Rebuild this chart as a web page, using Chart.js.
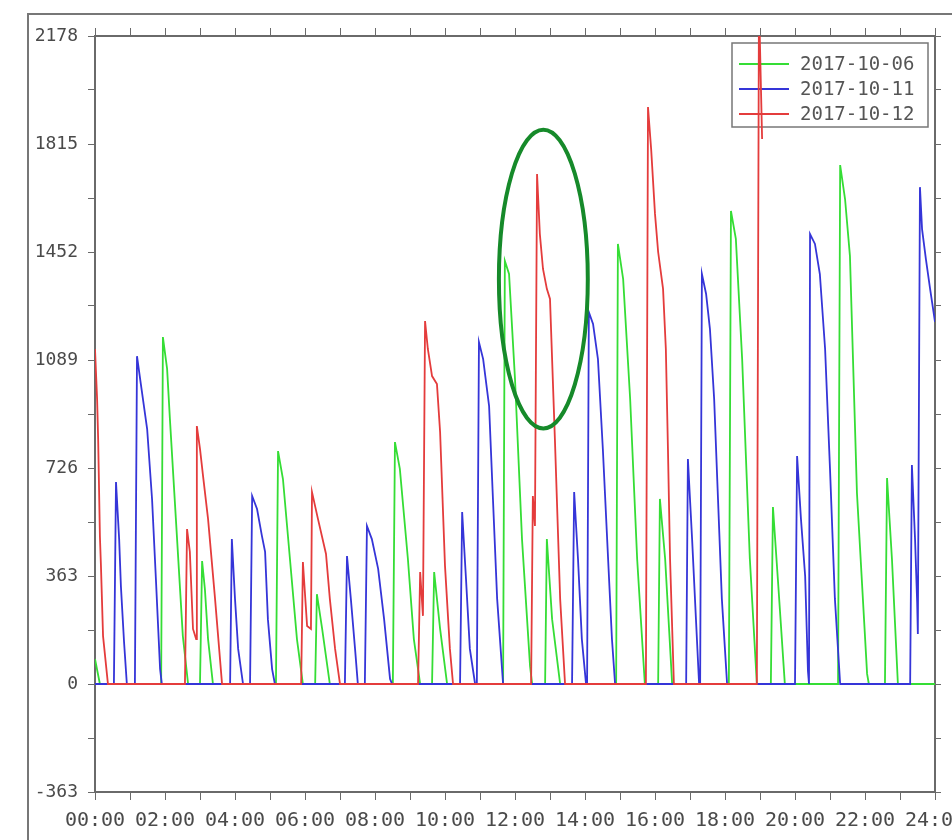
<!DOCTYPE html>
<html>
<head>
<meta charset="utf-8">
<script src="https://cdn.jsdelivr.net/npm/chart.js@4.4.1/dist/chart.umd.min.js"></script>
<style>
  html, body { margin: 0; padding: 0; background: #fff; overflow: hidden; }
  #wrap { width: 990px; height: 840px; }
</style>
</head>
<body>
<div id="wrap"><canvas id="chart" width="990" height="840"></canvas></div>
<script>
// --- Data (hours of day, value) ---
const seriesLabels = ['2017-10-06', '2017-10-11', '2017-10-12'];

const greenT = [0, 0.14, 1.89, 1.94, 2.06, 2.14, 2.34, 2.51, 2.66, 3.0, 3.06, 3.14, 3.23, 3.37,
  5.17, 5.23, 5.37, 5.57, 5.77, 5.94, 6.29, 6.34, 6.49, 6.71, 8.51, 8.57, 8.71, 8.94, 9.11, 9.29,
  9.63, 9.69, 9.86, 10.06, 11.66, 11.71, 11.83, 12.0, 12.2, 12.43, 12.49, 12.86, 12.91, 13.06, 13.29,
  14.89, 14.94, 15.09, 15.29, 15.49, 15.71, 16.09, 16.14, 16.29, 16.49, 18.11, 18.17, 18.31, 18.49,
  18.71, 18.91, 19.31, 19.37, 19.51, 19.71, 21.23, 21.29, 21.43, 21.57, 21.77, 22.06, 22.11,
  22.57, 22.63, 22.77, 22.94, 24];
const greenV = [84, 0, 0, 1166, 1059, 891, 497, 161, 0, 0, 413, 319, 151, 0,
  0, 783, 689, 420, 151, 0, 0, 302, 185, 0, 0, 813, 723, 420, 151, 0,
  0, 376, 185, 0, 0, 1422, 1378, 1025, 487, 60, 0, 0, 487, 218, 0,
  0, 1479, 1361, 958, 420, 0, 0, 622, 420, 0, 0, 1590, 1496, 1092,
  420, 0, 0, 595, 353, 0, 0, 1744, 1630, 1438, 642, 34, 0,
  0, 692, 420, 0, 0];

const blueT = [0, 0.54, 0.6, 0.69, 0.74, 0.83, 0.91, 1.14, 1.2, 1.31, 1.49, 1.63, 1.74, 1.86, 1.91,
  3.86, 3.91, 4.0, 4.09, 4.23, 4.43, 4.49, 4.63, 4.77, 4.86, 4.94, 5.06, 5.14,
  7.14, 7.2, 7.31, 7.43, 7.51, 7.71, 7.77, 7.91, 8.09, 8.26, 8.43, 8.49,
  10.43, 10.49, 10.6, 10.71, 10.86, 10.91, 10.97, 11.09, 11.26, 11.37, 11.49, 11.66,
  13.63, 13.69, 13.8, 13.91, 14.03, 14.06, 14.11, 14.23, 14.37, 14.51, 14.66, 14.77, 14.86,
  16.89, 16.94, 17.06, 17.17, 17.26, 17.29, 17.34, 17.46, 17.57, 17.69, 17.8, 17.91, 18.06,
  20.0, 20.06, 20.17, 20.29, 20.37, 20.4, 20.43, 20.57, 20.71, 20.86, 21.0, 21.14, 21.29,
  23.29, 23.34, 23.43, 23.49, 23.51, 23.57, 23.63, 23.74, 23.86, 24.0];
const blueV = [0, 0, 679, 487, 329, 141, 0, 0, 1102, 1008, 857, 622, 353, 50, 0,
  0, 487, 286, 118, 0, 0, 632, 588, 497, 444, 218, 50, 0,
  0, 430, 286, 118, 0, 0, 531, 487, 387, 218, 17, 0,
  0, 578, 353, 118, 0, 0, 1149, 1092, 934, 622, 286, 0,
  0, 645, 420, 151, 0, 0, 1250, 1210, 1092, 790, 420, 151, 0,
  0, 756, 487, 218, 0, 0, 1378, 1311, 1193, 958, 622, 286, 0,
  0, 766, 555, 363, 44, 0, 1512, 1479, 1378, 1126, 723, 286, 0,
  0, 736, 487, 276, 168, 1670, 1529, 1428, 1328, 1217];

const redT = [0, 0.06, 0.09, 0.14, 0.17, 0.23, 0.37,
  2.57, 2.63, 2.71, 2.8, 2.89, 2.91, 3.0, 3.09, 3.23, 3.43, 3.63,
  5.89, 5.94, 6.06, 6.17, 6.2, 6.37, 6.6, 6.71, 6.86, 7.0,
  9.23, 9.29, 9.37, 9.43, 9.51, 9.63, 9.77, 9.86, 10.0, 10.14, 10.23,
  12.46, 12.51, 12.57, 12.63, 12.71, 12.8, 12.91, 13.0, 13.14, 13.29, 13.43,
  15.74, 15.8, 15.89, 16.0, 16.09, 16.23, 16.31, 16.37, 16.43, 16.54,
  18.91, 18.97, 19.06];
const redV = [1126, 958, 823, 497, 397, 161, 0,
  0, 521, 444, 185, 151, 867, 790, 696, 555, 286, 0,
  0, 410, 195, 185, 645, 555, 437, 286, 118, 0,
  0, 376, 229, 1220, 1126, 1035, 1008, 847, 397, 118, 0,
  0, 632, 531, 1714, 1512, 1395, 1328, 1294, 823, 286, 0,
  0, 1939, 1798, 1580, 1452, 1328, 1126, 790, 420, 0,
  0, 2300, 1832];

// circled highlight (centre hour, centre value, half-width in hours, half-height in value)
const highlight = { t: 12.81, v: 1361, dt: 1.27, dv: 502 };

// --- Helpers ---
const colors = ['#35dd35', '#3535d8', '#e43c3c'];
const monoFont = '"DejaVu Sans Mono", "Liberation Mono", monospace';
const axisGrey = '#6a6a6a';

function toPoints(ts, vs) {
  return ts.map((t, i) => ({ x: t, y: vs[i] }));
}

function hourLabel(v) {
  if (v % 2 !== 0) return '';
  return (v < 10 ? '0' : '') + v + ':00';
}

function yLabel(v) {
  const k = Math.round(v / 181.5);
  return k % 2 === 0 ? String(Math.round(v)) : '';
}

const frameAndLegend = {
  id: 'frameAndLegend',
  beforeDraw(chart) {
    const ctx = chart.ctx;
    ctx.save();
    ctx.fillStyle = '#fff';
    ctx.fillRect(0, 0, chart.width, chart.height);
    ctx.strokeStyle = '#777';
    ctx.lineWidth = 2;
    ctx.beginPath();
    ctx.moveTo(28, chart.height);
    ctx.lineTo(28, 14);
    ctx.lineTo(chart.width, 14);
    ctx.stroke();
    ctx.restore();
  },
  beforeDatasetsDraw(chart) {
    // legend box sits under the lines (the red spike crosses it)
    const ctx = chart.ctx;
    ctx.save();
    ctx.strokeStyle = '#777';
    ctx.lineWidth = 1.5;
    ctx.strokeRect(732, 43, 196, 84);
    ctx.font = '19px ' + monoFont;
    ctx.textBaseline = 'middle';
    ctx.fillStyle = '#555';
    seriesLabels.forEach((lab, i) => {
      const y = 64 + i * 25;
      ctx.strokeStyle = colors[i];
      ctx.lineWidth = 2;
      ctx.beginPath();
      ctx.moveTo(739, y);
      ctx.lineTo(789, y);
      ctx.stroke();
      ctx.fillText(lab, 800, y + 1);
    });
    ctx.restore();
  },
  afterDatasetsDraw(chart) {
    const xs = chart.scales.x, ys = chart.scales.y;
    const cx = xs.getPixelForValue(highlight.t);
    const cy = ys.getPixelForValue(highlight.v);
    const rx = xs.getPixelForValue(highlight.t + highlight.dt) - cx;
    const ry = cy - ys.getPixelForValue(highlight.v + highlight.dv);
    const ctx = chart.ctx;
    ctx.save();
    ctx.strokeStyle = '#168a2a';
    ctx.lineWidth = 4;
    ctx.beginPath();
    ctx.ellipse(cx, cy, rx, ry, 0, 0, Math.PI * 2);
    ctx.stroke();
    ctx.restore();
  }
};

const lineStyle = { borderWidth: 1.8, pointRadius: 0, tension: 0, fill: false };

new Chart(document.getElementById('chart').getContext('2d'), {
  type: 'line',
  data: {
    datasets: [
      Object.assign({ label: seriesLabels[0], data: toPoints(greenT, greenV), borderColor: colors[0], order: 3 }, lineStyle),
      Object.assign({ label: seriesLabels[1], data: toPoints(blueT, blueV), borderColor: colors[1], order: 2 }, lineStyle),
      Object.assign({ label: seriesLabels[2], data: toPoints(redT, redV), borderColor: colors[2], order: 1 }, lineStyle)
    ]
  },
  options: {
    responsive: false,
    animation: false,
    devicePixelRatio: 1,
    layout: { padding: 0 },
    plugins: { legend: { display: false }, tooltip: { enabled: false } },
    scales: {
      x: {
        type: 'linear', position: 'bottom', min: 0, max: 24,
        ticks: { stepSize: 1, autoSkip: false, maxRotation: 0, callback: hourLabel,
                 font: { family: monoFont, size: 20 }, color: '#4a4a4a', padding: 9 },
        grid: { drawOnChartArea: false, drawTicks: true, tickLength: 8, color: axisGrey },
        border: { display: true, color: axisGrey, width: 2 },
        afterFit(s) { s.height = 48; }
      },
      x2: {
        type: 'linear', position: 'top', min: 0, max: 24,
        ticks: { stepSize: 1, autoSkip: false, maxRotation: 0, callback: () => '' },
        grid: { drawOnChartArea: false, drawTicks: true, tickLength: 8, color: axisGrey },
        border: { display: true, color: axisGrey, width: 2 },
        afterFit(s) { s.height = 36; }
      },
      y: {
        type: 'linear', position: 'left', min: -363, max: 2178,
        ticks: { stepSize: 181.5, autoSkip: false, callback: yLabel,
                 font: { family: monoFont, size: 18 }, color: '#4a4a4a', padding: 10 },
        grid: { drawOnChartArea: false, drawTicks: true, tickLength: 7, color: axisGrey },
        border: { display: true, color: axisGrey, width: 2 },
        afterFit(s) { s.width = 95; }
      },
      y2: {
        type: 'linear', position: 'right', min: -363, max: 2178,
        ticks: { stepSize: 181.5, autoSkip: false, callback: () => '' },
        grid: { drawOnChartArea: false, drawTicks: true, tickLength: 6, color: axisGrey },
        border: { display: true, color: axisGrey, width: 2 },
        afterFit(s) { s.width = 55; }
      }
    }
  },
  plugins: [frameAndLegend]
});
</script>
</body>
</html>
